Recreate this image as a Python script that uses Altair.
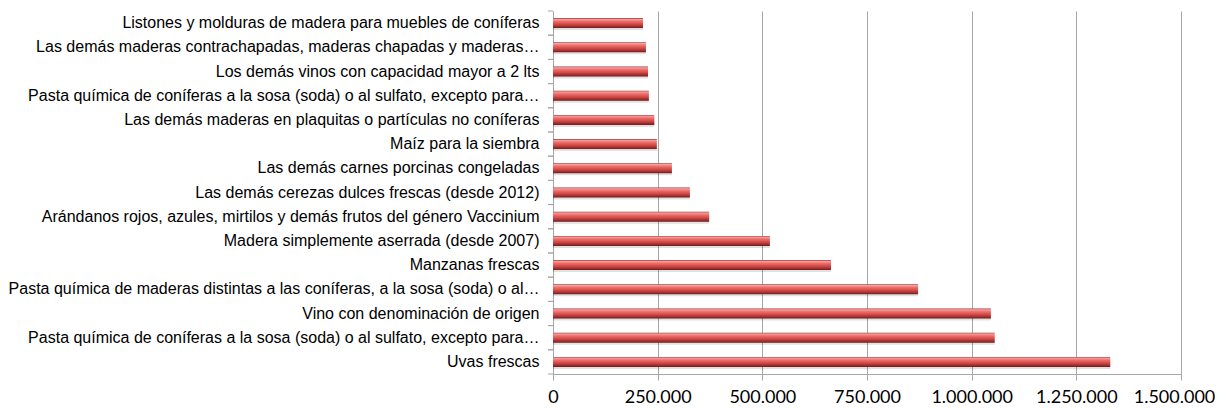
import json
import altair as alt
import pandas as pd

labels = [
    "Listones y molduras de madera para muebles de coníferas",
    "Las demás maderas contrachapadas, maderas chapadas y maderas…",
    "Los demás vinos con capacidad mayor a 2 lts",
    "Pasta química de coníferas a la sosa (soda) o al sulfato, excepto para…",
    "Las demás maderas en plaquitas o partículas no coníferas",
    "Maíz para la siembra",
    "Las demás carnes porcinas congeladas",
    "Las demás cerezas dulces frescas (desde 2012)",
    "Arándanos rojos, azules, mirtilos y demás frutos del género Vaccinium",
    "Madera simplemente aserrada (desde 2007)",
    "Manzanas frescas",
    "Pasta química de maderas distintas a las coníferas, a la sosa (soda) o al…",
    "Vino con denominación de origen",
    "Pasta química de coníferas a la sosa (soda) o al sulfato, excepto para…",
    "Uvas frescas",
]
values = [215000, 222000, 227000, 229000, 242000, 248000, 284000, 327000,
          373000, 518000, 664000, 872000, 1046000, 1055000, 1331000]
x_ticks = [0, 250000, 500000, 750000, 1000000, 1250000, 1500000]

keys = list(range(len(labels)))
df = pd.DataFrame({"k": keys, "v": values})

label_expr = "[" + ",".join(json.dumps(l, ensure_ascii=False) for l in labels) + "][datum.value]"

y_enc = alt.Y(
    "k:N", sort=None,
    scale=alt.Scale(paddingInner=0, paddingOuter=0),
    axis=alt.Axis(
        title=None, labelExpr=label_expr, labelFont="Liberation Sans",
        labelFontSize=16, labelColor="#000000", labelPadding=14,
        ticks=False, tickSize=0, domainColor="#A6A6A6", labelLimit=700,
    ),
)
x_enc = alt.X(
    "v:Q",
    scale=alt.Scale(domain=[0, 1500000], nice=False),
    axis=alt.Axis(
        title=None, values=x_ticks,
        labelExpr="replace(replace(format(datum.value, ','), ',', '.'), ',', '.')",
        labelFont="Lato", labelFontSize=18, labelColor="#000000",
        labelPadding=8, tickSize=6, tickColor="#A6A6A6",
        grid=True, gridColor="#A6A6A6", domainColor="#A6A6A6",
        labelFlush=False,
        labelOffset={"condition": {"test": "datum.value >= 1500000", "value": -7}, "value": 0},
    ),
)

grad = alt.Gradient(
    gradient="linear", x1=0, x2=0, y1=0, y2=1,
    stops=[
        alt.GradientStop(offset=0.0, color="#9E3533"),
        alt.GradientStop(offset=0.12, color="#F4A09E"),
        alt.GradientStop(offset=0.32, color="#EE6E6B"),
        alt.GradientStop(offset=0.6, color="#D24B48"),
        alt.GradientStop(offset=0.85, color="#9C2E2C"),
        alt.GradientStop(offset=1.0, color="#6A1C1B"),
    ],
)

base = alt.Chart(df)
shadow = base.mark_bar(height=10, color="#000000", opacity=0.12, yOffset=2, x2Offset=2).encode(
    y=y_enc, x=x_enc)
bars = base.mark_bar(height=10, color=grad).encode(y=y_enc, x=x_enc)
tick_top = base.mark_rule(color="#A6A6A6", yOffset=-12.1).encode(
    y=alt.Y("k:N", sort=None), x=alt.value(-5), x2=alt.value(0))
tick_bot = base.mark_rule(color="#A6A6A6", yOffset=12.1).encode(
    y=alt.Y("k:N", sort=None), x=alt.value(-5), x2=alt.value(0))

chart = alt.layer(shadow, bars, tick_top, tick_bot).properties(
    width=628, height=363,
    padding={"left": 545, "top": 3, "right": 34, "bottom": 34},
    autosize=alt.AutoSizeParams(type="none"),
).configure_view(stroke=None)

chart.save("out.html", embed_options={"renderer": "svg", "actions": False})
